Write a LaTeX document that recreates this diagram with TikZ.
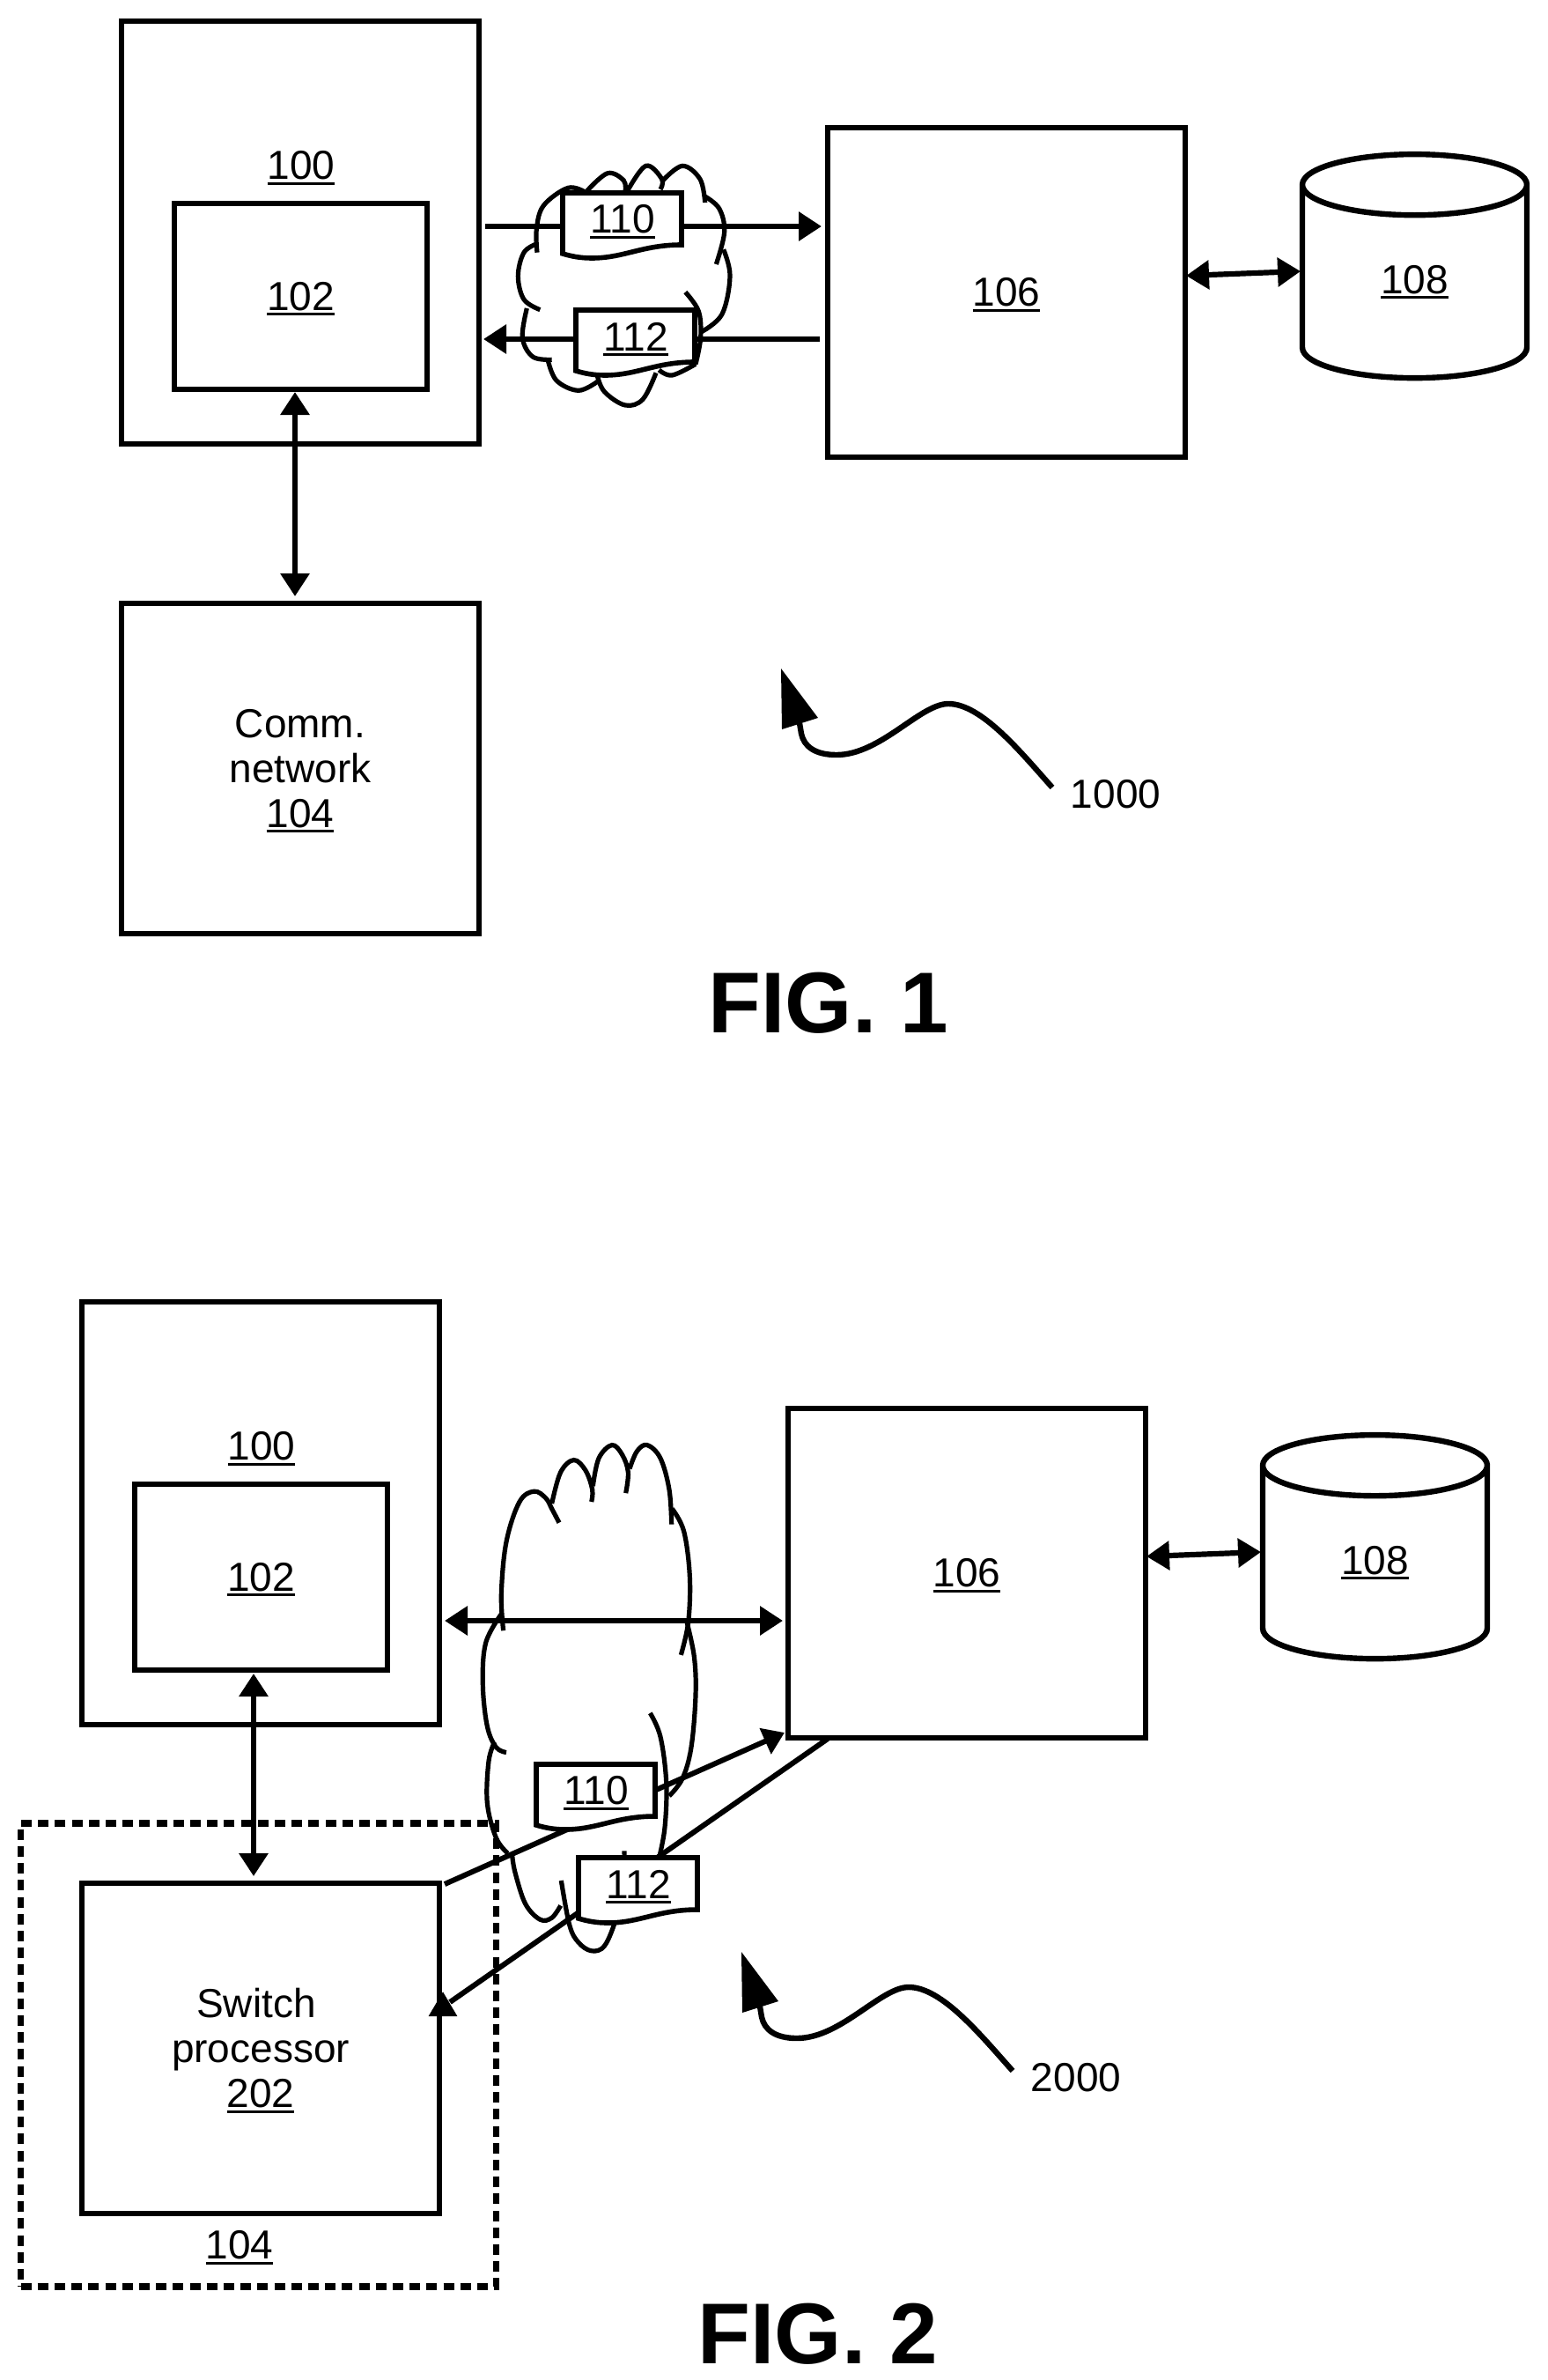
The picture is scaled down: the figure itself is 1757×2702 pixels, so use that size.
\documentclass[tikz,border=0pt]{standalone}
\usepackage{fontspec}
\setmainfont{Liberation Sans}
\usetikzlibrary{arrows.meta,shapes.geometric}
\newsavebox{\ulbox}
\newcommand{\ulnum}[1]{\sbox{\ulbox}{#1}\leavevmode\rlap{\smash{\rule[-3pt]{\wd\ulbox}{1.6pt}}}\usebox{\ulbox}}
\tikzset{
  every node/.style={font=\fontsize{23}{25.5}\selectfont,inner sep=0pt,align=center},
  box/.style={draw,line width=3.4pt,rectangle,fill=white,line join=miter},
  wide/.style={box,minimum width=203pt},
  tip/.style={-{Triangle[length=13pt,width=16pt]}},
  flow/.style={line width=3.1pt,tip},
  twoway/.style={line width=3.1pt,{Triangle[length=13pt,width=16pt]}-{Triangle[length=13pt,width=16pt]}},
  cloudline/.style={line width=2.6pt,smooth,tension=0.6},
  docline/.style={draw,fill=white,line width=2.8pt,line join=miter},
  store/.style={draw,line width=3.2pt,cylinder,shape border rotate=90,shape aspect=0.9,minimum width=127.5pt,minimum height=127pt},
  figlabel/.style={font=\fontsize{49}{55}\selectfont\bfseries},
  dashbox/.style={draw,dash pattern=on 6pt off 3.6pt,line width=3.6pt},
  squiggle/.style={line width=3.2pt,line join=round}
}
\newcommand{\docmark}[4]{%
  \begin{scope}[shift={(#2,#3)}]
    \path[docline] (0,0) -- (135,0) -- (135,59) .. controls (90,59) and (70,74) .. (33,74) .. controls (20,74) and (10,72) .. (0,69) -- cycle;
    \node (#1) at (68,30) {\ulnum{#4}};
  \end{scope}}
\newcommand{\commonparts}[1]{%
  \node[wide,minimum height=240pt] (b100#1) at (341,264) {};
  \node (t100#1) at (342,188) {\ulnum{100}};
  \node[box,minimum width=143.5pt,minimum height=105.5pt] (b102#1) at (341.5,336.5) {\ulnum{102}};
  \node[wide,minimum height=187pt] (b106#1) at (1143,332) {\ulnum{106}};
  \node[store] (s108#1) at (1606.5,321) {\raisebox{4pt}{\ulnum{108}}};
  \coordinate (p1#1) at (1347,313);
  \coordinate (p2#1) at (1477,308);
  \draw[twoway] (p1#1) -- (p2#1);
}
\newcommand{\squig}{%
  \draw[squiggle] (1195,894) .. controls (1160,855) and (1115,799) .. (1077,799) .. controls (1045,799) and (1000,857) .. (950,857) .. controls (925,857) and (913,847) .. (910,833) -- (908,821);
  \fill (887,759) -- ++(1,69) -- ++(41,-13) -- cycle;}
\begin{document}
\begin{tikzpicture}[x=0.5pt,y=-0.5pt]
\useasboundingbox (0,0) rectangle (1757,2702);

% ---- FIG. 1
\commonparts{a}
\squig
\node[wide,minimum height=187.5pt] (b104a) at (341,872.5) {Comm.\\network\\\ulnum{104}};
\coordinate (v1) at (335,445);
\coordinate (v2) at (335,677);
\draw[twoway] (v1) -- (v2);
\begin{scope}[shift={(530,150)},x=0.16667pt,y=-0.16667pt]
  \draw[cloudline] plot coordinates {(240,410) (238,330) (262,250) (345,190) (405,205)};
  \draw[cloudline] plot coordinates {(410,200) (480,140) (535,165) (540,205)};
  \draw[cloudline] plot coordinates {(545,205) (610,115) (665,160) (660,195)};
  \draw[cloudline] plot coordinates {(668,165) (735,115) (795,160) (812,240)};
  \draw[cloudline] plot coordinates {(810,218) (860,260) (878,340) (850,450)};
  \draw[cloudline] plot coordinates {(875,400) (897,490) (870,620) (800,680)};
  \draw[cloudline] plot coordinates {(745,545) (790,610) (797,700) (780,790)};
  \draw[cloudline] plot coordinates {(780,790) (700,828) (655,810)};
  \draw[cloudline] plot coordinates {(645,820) (600,910) (540,930) (470,885) (445,830)};
  \draw[cloudline] plot coordinates {(445,850) (380,880) (305,845) (275,770)};
  \draw[cloudline] plot coordinates {(290,775) (225,765) (190,700) (205,600)};
  \draw[cloudline] plot coordinates {(250,605) (195,570) (175,490) (195,410) (240,380)};
\end{scope}
\coordinate (f1) at (551,257);
\coordinate (f2) at (933,257);
\coordinate (g1) at (931,385);
\coordinate (g2) at (549,385);
\draw[flow] (f1) -- (f2);
\draw[flow] (g1) -- (g2);
\docmark{d110a}{639}{219}{110}
\docmark{d112a}{654}{352}{112}
\node (n1000) at (1267,902) {1000};
\node[figlabel] (fig1) at (941,1139) {FIG. 1};

% ---- FIG. 2
\begin{scope}[shift={(-45,1454)}]
  \commonparts{b}
\end{scope}
\begin{scope}[shift={(-45,1457)}]
  \squig
  \node (n2000) at (1267,902) {2000};
\end{scope}
\node[dashbox,minimum width=270pt,minimum height=263pt] (dash104) at (293.5,2333) {};
\node[box,minimum width=203pt,minimum height=187.5pt] (b202) at (296,2325.5) {Switch\hspace*{5pt}\\processor\\\ulnum{202}};
\node (t104) at (272,2549) {\ulnum{104}};
\coordinate (w1) at (288,1900);
\coordinate (w2) at (288,2130);
\draw[twoway] (w1) -- (w2);
\begin{scope}[shift={(480,1620)},x=0.16667pt,y=-0.1976pt]
  \draw[cloudline] plot coordinates {(275,585) (268,480) (285,330) (330,215) (380,185) (420,205) (440,235) (465,275)};
  \draw[cloudline] plot coordinates {(440,220) (470,130) (515,95) (555,125) (578,180) (575,215)};
  \draw[cloudline] plot coordinates {(580,170) (600,90) (645,52) (680,80) (700,130) (692,190)};
  \draw[cloudline] plot coordinates {(705,120) (730,70) (765,52) (810,90) (840,180) (848,280)};
  \draw[cloudline] plot coordinates {(850,235) (890,300) (910,430) (905,560) (880,655)};
  \draw[cloudline] plot coordinates {(900,560) (925,660) (930,770) (915,920) (885,1010) (840,1060)};
  \draw[cloudline] plot coordinates {(775,822) (810,890) (830,1020) (825,1150) (805,1240)};
  \draw[cloudline] plot coordinates {(687,1218) (685,1320) (660,1410) (620,1490) (575,1505) (530,1480) (500,1430) (472,1303)};
  \draw[cloudline] plot coordinates {(470,1375) (440,1410) (400,1415) (350,1370) (315,1280) (305,1230)};
  \draw[cloudline] plot coordinates {(290,1225) (250,1180) (220,1080) (225,960) (245,905)};
  \draw[cloudline] plot coordinates {(285,935) (250,920) (220,860) (205,740) (215,620) (270,535)};
\end{scope}
\coordinate (h1) at (505,1840);
\coordinate (h2) at (889,1840);
\draw[twoway] (h1) -- (h2);
\coordinate (i1) at (505,2139);
\coordinate (i2) at (891,1967);
\draw[line width=3pt,-{Triangle[length=12pt,width=15.5pt]}] (i1) -- (i2);
\coordinate (j1) at (940,1974);
\coordinate (j2) at (511,2273);
\coordinate (j3) at (503,2289);
\coordinate (j4) at (503,2261);
\draw[line width=3pt] (j1) -- (j2);
\draw[line width=3pt,-{Triangle[length=14pt,width=15.5pt]}] (j3) -- (j4);
\docmark{d110b}{609}{2003}{110}
\docmark{d112b}{657}{2109}{112}
\node[figlabel] (fig2) at (929,2650) {FIG. 2};
\end{tikzpicture}
\end{document}
